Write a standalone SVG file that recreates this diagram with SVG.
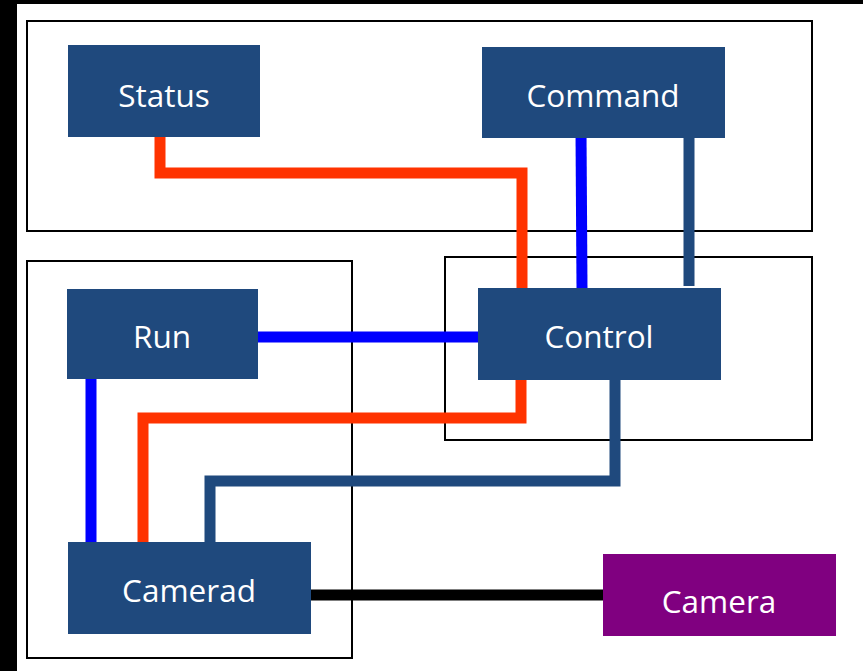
<svg xmlns="http://www.w3.org/2000/svg" width="863" height="671" viewBox="0 0 863 671">
  <style>
    .frame { fill: none; stroke: #000; stroke-width: 2; }
    .node { fill: #1F497D; }
    .ext { fill: #800080; }
    .label { font-family: "Open Sans", "Liberation Sans", sans-serif; font-size: 31.5px; fill: #fff; text-anchor: middle; }
    .wire { fill: none; stroke-width: 11; stroke-linecap: butt; stroke-linejoin: miter; }
    .red { stroke: #FF3300; }
    .blue { stroke: #0000FF; }
    .navy { stroke: #1F497D; }
    .black { stroke: #000; }
  </style>

  <!-- page edge -->
  <rect x="0" y="0" width="863" height="671" fill="#000"/>
  <rect x="17" y="4" width="846" height="667" fill="#fff"/>

  <!-- grouping frames -->
  <g id="frames">
    <rect class="frame" x="27" y="21" width="785" height="210"/>
    <rect class="frame" x="27" y="261" width="325" height="397"/>
    <rect class="frame" x="445" y="257" width="367" height="183"/>
  </g>

  <!-- connectors -->
  <g id="connectors">
    <polyline class="wire red" points="160,137 160,173 522,173 522,288"/>
    <line class="wire blue" x1="581" y1="132" x2="582" y2="288"/>
    <line class="wire navy" x1="689" y1="138" x2="689" y2="286"/>
    <line class="wire blue" x1="257" y1="337" x2="478" y2="337"/>
    <polyline class="wire red" points="521,380 521,418 143,418 143,543"/>
    <polyline class="wire navy" points="615,380 615,481 210,481 210,543"/>
    <line class="wire blue" x1="91" y1="377" x2="91" y2="548"/>
    <line class="wire black" x1="309" y1="595" x2="603" y2="595"/>
  </g>

  <g id="status">
    <rect class="node" x="68" y="45" width="192" height="92"/>
    <text class="label" x="164" y="107">Status</text>
  </g>
  <g id="command">
    <rect class="node" x="482" y="47" width="243" height="91"/>
    <text class="label" x="603" y="107">Command</text>
  </g>
  <g id="run">
    <rect class="node" x="67" y="289" width="191" height="90"/>
    <text class="label" x="162" y="348">Run</text>
  </g>
  <g id="control">
    <rect class="node" x="478" y="288" width="243" height="92"/>
    <text class="label" x="599" y="348">Control</text>
  </g>
  <g id="camerad">
    <rect class="node" x="68" y="542" width="243" height="92"/>
    <text class="label" x="189" y="602">Camerad</text>
  </g>
  <g id="camera">
    <rect class="ext" x="603" y="554" width="233" height="82"/>
    <text class="label" x="719" y="613">Camera</text>
  </g>
</svg>
